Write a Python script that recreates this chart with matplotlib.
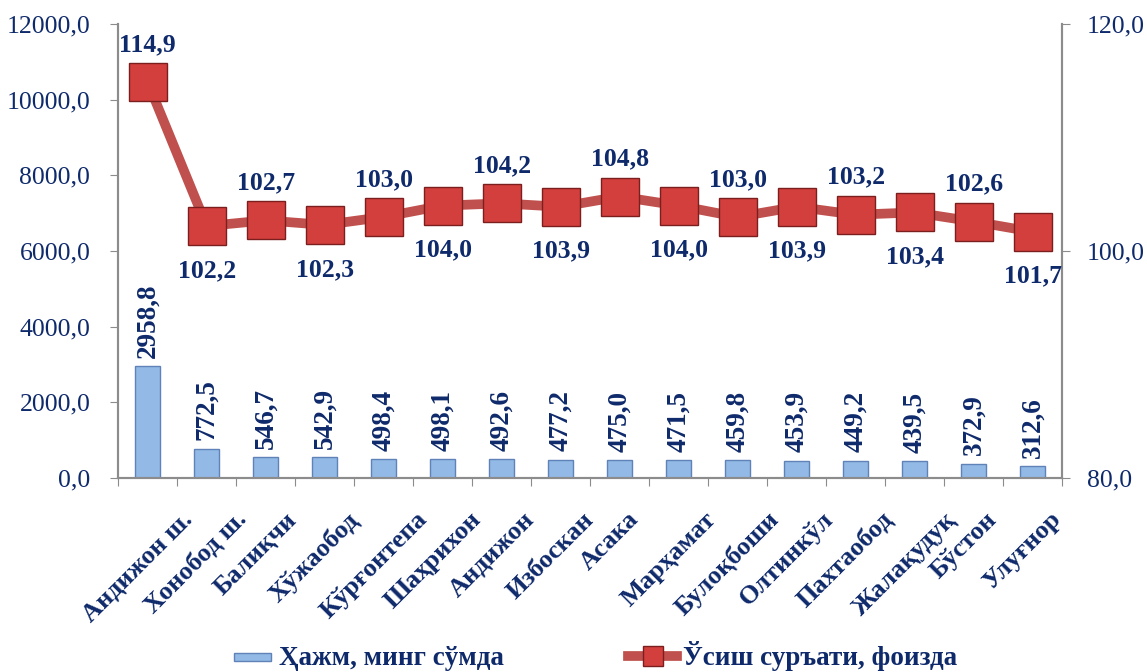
import matplotlib.pyplot as plt
import matplotlib.patches as mpatches
from matplotlib.legend_handler import HandlerPatch
from matplotlib.transforms import offset_copy

plt.rcParams['font.family'] = ['Liberation Serif', 'DejaVu Serif']

districts = ['Андижон ш.', 'Хонобод ш.', 'Балиқчи', 'Хўжаобод', 'Кўрғонтепа',
             'Шаҳрихон', 'Андижон', 'Избоскан', 'Асака', 'Марҳамат', 'Булоқбоши',
             'Олтинкўл', 'Пахтаобод', 'Жалақудуқ', 'Бўстон', 'Улуғнор']
volume = [2958.8, 772.5, 546.7, 542.9, 498.4, 498.1, 492.6, 477.2, 475.0,
          471.5, 459.8, 453.9, 449.2, 439.5, 372.9, 312.6]
growth = [114.9, 102.2, 102.7, 102.3, 103.0, 104.0, 104.2, 103.9, 104.8,
          104.0, 103.0, 103.9, 103.2, 103.4, 102.6, 101.7]

navy = '#0F2A6B'
grey = '#8C8C8C'

fig = plt.figure(figsize=(11.47, 6.72), dpi=100)
ax = fig.add_axes([0.103, 0.289, 0.823, 0.675])
ax2 = ax.twinx()

x = list(range(len(districts)))
bars = ax.bar(x, volume, width=0.42, color='#93B9E6', edgecolor='#5F82B8',
              linewidth=1.0, zorder=2)
for xi, v in zip(x, volume):
    ax.annotate(f'{v:.1f}'.replace('.', ','), (xi, v), xytext=(0, 6),
                textcoords='offset points', rotation=90, ha='center', va='bottom',
                fontsize=19.5, fontweight='bold', color=navy)

ax.set_xlim(-0.5, len(districts) - 0.5)
ax.set_ylim(0, 12000)
ax.set_yticks(range(0, 12001, 2000))
ax.set_yticklabels([f'{t},0' for t in range(0, 12001, 2000)], fontsize=18.5, color=navy)
ax.set_xticks([i - 0.5 for i in range(len(districts) + 1)])
ax.set_xticklabels([])
ax.tick_params(axis='x', length=6, color=grey)
ax.tick_params(axis='y', length=6, color=grey, pad=14)

# category labels, rotated and centred under each bar like Excel does
lab_trans = offset_copy(ax.get_xaxis_transform(), fig=fig, x=-10, y=-30, units='dots')
for xi, name in zip(x, districts):
    ax.text(xi, 0, name, transform=lab_trans, rotation=45, ha='center', va='top',
            fontsize=19, fontweight='bold', color=navy)

line, = ax2.plot(x, growth, color='#C0504D', linewidth=7, marker='s',
                 markersize=27, markerfacecolor='#D33F3D', markeredgecolor='#7A1F1E',
                 markeredgewidth=1.0, zorder=3)
for i, (xi, g) in enumerate(zip(x, growth)):
    off = 27 if i % 2 == 0 else -32
    ax2.annotate(f'{g:.1f}'.replace('.', ','), (xi, g), xytext=(0, off),
                 textcoords='offset points', ha='center', va='center',
                 fontsize=18.5, fontweight='bold', color=navy)

ax2.set_ylim(80, 120)
ax2.set_yticks([80, 100, 120])
ax2.set_yticklabels(['80,0', '100,0', '120,0'], fontsize=18.5, color=navy)
ax2.tick_params(axis='y', length=6, color=grey, pad=12)

for a in (ax, ax2):
    a.spines['top'].set_visible(False)
    for s in ('left', 'right', 'bottom'):
        a.spines[s].set_color(grey)
        a.spines[s].set_linewidth(1.5)


def thin_bar(legend, orig_handle, xdescent, ydescent, width, height, fontsize):
    return mpatches.Rectangle((-xdescent + width * 0.2, -ydescent + height * 0.2),
                              width * 0.75, height * 0.45)


bar_handle = bars[0]
fig.legend([bar_handle, line], ['Ҳажм, минг сўмда', 'Ўсиш суръати, фоизда'],
           loc='lower center', bbox_to_anchor=(0.515, -0.035), ncol=2, frameon=False,
           columnspacing=4.6, handlelength=1.8, handletextpad=0.2, markerscale=0.55,
           handler_map={bar_handle: HandlerPatch(patch_func=thin_bar)},
           prop={'size': 19.5, 'weight': 'bold'}, labelcolor=navy)

fig.savefig('out.png', dpi=100)
